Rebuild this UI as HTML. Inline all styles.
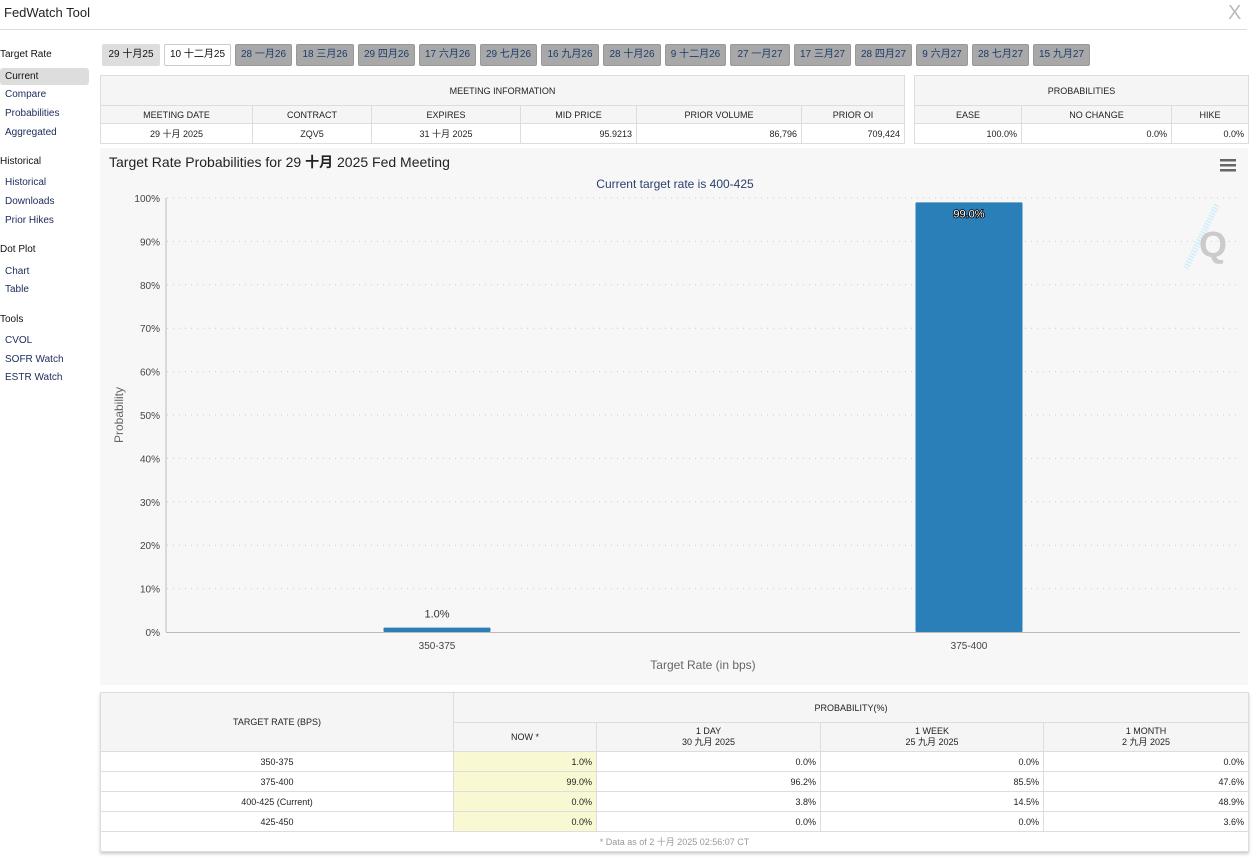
<!DOCTYPE html>
<html><head><meta charset="utf-8">
<style>
*{box-sizing:border-box;margin:0;padding:0}
body{width:1259px;height:858px;background:#fff;font-family:"Liberation Sans","Noto Sans CJK SC",sans-serif;position:relative;overflow:hidden;color:#222}
.a{position:absolute}
.side{font-size:10px;color:#1a2a5a;left:5px}
.sh{font-size:10px;color:#111;left:0}
.tab{position:absolute;top:44px;height:22px;font-size:10px;line-height:20px;text-align:center;background:#a8a8a8;border:1px solid #999;color:#1d3b6e;border-radius:2px}
table{border-collapse:collapse;position:absolute;font-size:9px;table-layout:fixed}
td{border:1px solid #ddd;padding:0 4px;white-space:nowrap}
.hd{background:#f5f5f5;text-align:center;color:#222}
.r{text-align:right}.c{text-align:center}
.y{background:#f8f8d2}
</style></head><body>
<div class="a" style="left:4px;top:5px;font-size:13px;color:#222">FedWatch Tool</div>
<div class="a" style="left:1228px;top:2px;font-size:20px;color:#bbb">X</div>
<div class="a" style="left:0;top:29px;width:1247px;height:1px;background:#ddd"></div>

<div class="a" style="left:0;top:68px;width:89px;height:17px;background:#ddd;border-radius:3px"></div>
<div class="a sh" style="top:49px">Target Rate</div>
<div class="a side" style="top:71px;color:#111">Current</div>
<div class="a side" style="top:89px">Compare</div>
<div class="a side" style="top:108px">Probabilities</div>
<div class="a side" style="top:127px">Aggregated</div>
<div class="a sh" style="top:156px">Historical</div>
<div class="a side" style="top:177px">Historical</div>
<div class="a side" style="top:196px">Downloads</div>
<div class="a side" style="top:215px">Prior Hikes</div>
<div class="a sh" style="top:244px">Dot Plot</div>
<div class="a side" style="top:266px">Chart</div>
<div class="a side" style="top:284px">Table</div>
<div class="a sh" style="top:314px">Tools</div>
<div class="a side" style="top:335px">CVOL</div>
<div class="a side" style="top:354px">SOFR Watch</div>
<div class="a side" style="top:372px">ESTR Watch</div>

<div id="tabs"></div>

<table style="left:100px;top:75px;width:804px">
<colgroup><col style="width:152px"><col style="width:119px"><col style="width:149px"><col style="width:116px"><col style="width:165px"><col style="width:103px"></colgroup>
<tr style="height:30px"><td class="hd" colspan="6">MEETING INFORMATION</td></tr>
<tr style="height:18px"><td class="hd">MEETING DATE</td><td class="hd">CONTRACT</td><td class="hd">EXPIRES</td><td class="hd">MID PRICE</td><td class="hd">PRIOR VOLUME</td><td class="hd">PRIOR OI</td></tr>
<tr style="height:20px"><td class="c">29 十月 2025</td><td class="c">ZQV5</td><td class="c">31 十月 2025</td><td class="r">95.9213</td><td class="r">86,796</td><td class="r">709,424</td></tr>
</table>
<table style="left:914px;top:75px;width:334px">
<colgroup><col style="width:107px"><col style="width:150px"><col style="width:77px"></colgroup>
<tr style="height:30px"><td class="hd" colspan="3">PROBABILITIES</td></tr>
<tr style="height:18px"><td class="hd">EASE</td><td class="hd">NO CHANGE</td><td class="hd">HIKE</td></tr>
<tr style="height:20px"><td class="r">100.0%</td><td class="r">0.0%</td><td class="r">0.0%</td></tr>
</table>

<svg class="a" style="left:0;top:0" width="1259" height="858" id="chart">
<rect x="100" y="148" width="1148" height="537" fill="#f7f7f7"/>
<text x="109" y="167" font-size="14" fill="#222" font-family="Liberation Sans,Noto Sans CJK SC,sans-serif">Target Rate Probabilities for 29 <tspan font-weight="bold">十月</tspan> 2025 Fed Meeting</text>
<text x="675" y="188" font-size="12" fill="#2a3f6f" text-anchor="middle" font-family="Liberation Sans,sans-serif">Current target rate is 400-425</text>
<g><rect x="1220" y="159" width="16" height="2.5" fill="#666"/><rect x="1220" y="164" width="16" height="2.5" fill="#666"/><rect x="1220" y="169" width="16" height="2.5" fill="#666"/></g>
<g id="grid"></g><g id="bars"></g>
<g>
<path d="M1217 205 L1186 268" stroke="#cdeefb" stroke-width="6" stroke-dasharray="1.5,1.5"/>
<text x="1213" y="257" font-size="36" font-weight="bold" fill="#cbcbcb" text-anchor="middle" font-family="Liberation Sans,sans-serif">Q</text>
</g>
<line x1="166" y1="198" x2="166" y2="632" stroke="#bbb"/>
<line x1="166" y1="632.5" x2="1240" y2="632.5" stroke="#bbb"/>
<text x="703" y="669" font-size="12" fill="#666" text-anchor="middle" font-family="Liberation Sans,sans-serif">Target Rate (in bps)</text>
<text transform="translate(123,415) rotate(-90)" font-size="12" fill="#666" text-anchor="middle" font-family="Liberation Sans,sans-serif">Probability</text>
</svg>

<table style="left:100px;top:692px;width:1148px;box-shadow:0 2px 3px #ccc">
<colgroup><col style="width:353px"><col style="width:143px"><col style="width:224px"><col style="width:223px"><col style="width:205px"></colgroup>
<tr style="height:30px"><td class="hd" rowspan="2">TARGET RATE (BPS)</td><td class="hd" colspan="4">PROBABILITY(%)</td></tr>
<tr style="height:29px;line-height:11px"><td class="hd">NOW *</td><td class="hd">1 DAY<br>30 九月 2025</td><td class="hd">1 WEEK<br>25 九月 2025</td><td class="hd">1 MONTH<br>2 九月 2025</td></tr>
<tr style="height:20px"><td class="c">350-375</td><td class="r y">1.0%</td><td class="r">0.0%</td><td class="r">0.0%</td><td class="r">0.0%</td></tr>
<tr style="height:20px"><td class="c">375-400</td><td class="r y">99.0%</td><td class="r">96.2%</td><td class="r">85.5%</td><td class="r">47.6%</td></tr>
<tr style="height:20px"><td class="c">400-425 (Current)</td><td class="r y">0.0%</td><td class="r">3.8%</td><td class="r">14.5%</td><td class="r">48.9%</td></tr>
<tr style="height:20px"><td class="c">425-450</td><td class="r y">0.0%</td><td class="r">0.0%</td><td class="r">0.0%</td><td class="r">3.6%</td></tr>
<tr style="height:20px"><td colspan="5" class="c" style="color:#999">* Data as of 2 十月 2025 02:56:07 CT</td></tr>
</table>

<script>
const tabLabels=["29 十月25","10 十二月25","28 一月26","18 三月26","29 四月26","17 六月26","29 七月26","16 九月26","28 十月26","9 十二月26","27 一月27","17 三月27","28 四月27","9 六月27","28 七月27","15 九月27"];
const tabWidths=[58,67,57,58,57,57,57,58,58,61,60,57,57,52,57,57];
let tx=102;const tabsEl=document.getElementById('tabs');
tabLabels.forEach((t,i)=>{const d=document.createElement('div');d.className='tab';d.textContent=t;
d.style.left=tx+'px';d.style.width=tabWidths[i]+'px';
if(i===0){d.style.background='#ddd';d.style.borderColor='#ddd';d.style.color='#111';}
if(i===1){d.style.background='#fff';d.style.borderColor='#ccc';d.style.color='#111';}


tabsEl.appendChild(d);tx+=tabWidths[i]+4;});

const categories=["350-375","375-400"];
const values=[1.0,99.0];
const yTicks=[0,10,20,30,40,50,60,70,80,90,100];
const NS='http://www.w3.org/2000/svg';
const x0=171,x1=1235,y0=632,y1=198;
const yS=v=>y0-(v/100)*(y0-y1);
const band=(x1-x0)/categories.length;
const xC=i=>x0+band*(i+0.5);
const g=document.getElementById('grid'),b=document.getElementById('bars');
function el(tag,attrs,parent){const e=document.createElementNS(NS,tag);for(const k in attrs)e.setAttribute(k,attrs[k]);parent.appendChild(e);return e;}
yTicks.forEach(v=>{const y=yS(v);
 if(v>0){const l=el('line',{x1:167,x2:1240,y1:y,y2:y,stroke:'#ccc','stroke-dasharray':'1,5'},g);
 
 }
 const t=el('text',{x:160,y:y+4,'font-size':10,fill:'#444','text-anchor':'end','font-family':'Liberation Sans,sans-serif'},g);t.textContent=v+'%';
 
 });
categories.forEach((c,i)=>{const cx=xC(i),w=107,top=yS(values[i]);
 const r=el('rect',{x:cx-w/2,y:top,width:w,height:y0-top,fill:'#2a7fb8',rx:1},b);
 
 
 const inside=values[i]>50;
 const t=el('text',{x:cx,y:inside?top+15:top-10,'font-size':11,fill:inside?'#fff':'#333','text-anchor':'middle','font-family':'Liberation Sans,sans-serif'},b);
 if(inside){t.setAttribute('stroke','#000');t.setAttribute('stroke-width','1.6');t.setAttribute('paint-order','stroke');}
 t.textContent=values[i].toFixed(1)+'%';
 
 
 const xl=el('text',{x:cx,y:649,'font-size':10,fill:'#444','text-anchor':'middle','font-family':'Liberation Sans,sans-serif'},b);xl.textContent=c;
 
 });
</script>
</body></html>
